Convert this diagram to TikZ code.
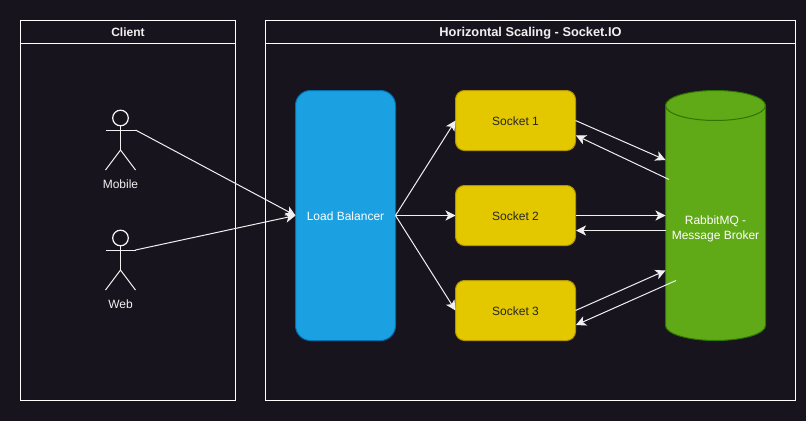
\documentclass[tikz,border=0pt]{standalone}
\usepackage{fontspec}
\setmainfont{Liberation Sans}
\usetikzlibrary{arrows.meta,positioning,calc}
\definecolor{pagebg}{HTML}{18141D}
\definecolor{linegray}{HTML}{F0F0F0}
\definecolor{lbfill}{HTML}{1BA1E2}
\definecolor{lbline}{HTML}{006EAF}
\definecolor{sockfill}{HTML}{E3C800}
\definecolor{sockline}{HTML}{B09500}
\definecolor{mqfill}{HTML}{60A917}
\definecolor{mqline}{HTML}{2D7600}
\tikzset{
  lanebody/.style={draw=white, line width=0.75pt, outer sep=0pt, inner sep=0pt},
  lanehead/.style={lanebody, text=linegray, font=\bfseries\fontsize{9}{11}\selectfont, minimum height=17.25pt,
    text height=7.4pt, text depth=0pt},
  lbbox/.style={draw=lbline, fill=lbfill, rounded corners=11.25pt, line width=0.75pt, outer sep=0pt,
    minimum width=75pt, minimum height=187.5pt, text=white, font=\fontsize{9}{11}\selectfont,
    text height=7.4pt, text depth=0pt},
  sockbox/.style={draw=sockline, fill=sockfill, rounded corners=6.75pt, line width=0.75pt, outer sep=0pt,
    minimum width=90pt, minimum height=45pt, text=black!85, font=\fontsize{9}{11}\selectfont,
    text height=7.8pt, text depth=0pt},
  mqbody/.style={draw=mqline, fill=mqfill, line width=0.75pt},
  mqlabel/.style={align=center, text=white, inner sep=0pt, font=\fontsize{9}{11}\selectfont},
  person/.style={draw=linegray, line width=0.75pt},
  personhead/.style={draw=linegray!75, line width=0.9pt},
  personlabel/.style={text=linegray, inner sep=0pt, font=\fontsize{9}{11}\selectfont},
  link/.style={draw=linegray, line width=0.75pt, -{Stealth[length=7.5pt,width=7.5pt,inset=2pt]}},
}
\begin{document}
\begin{tikzpicture}[x=0.75pt,y=-0.75pt]
  \fill[pagebg] (0,0) rectangle (806,421);
  \useasboundingbox (0,0) rectangle (806,421);

  % Lanes
  \node[lanebody, minimum width=161.25pt, minimum height=285pt] (clientlane) at (128,210.5) {};
  \node[lanehead, minimum width=161.25pt] (clienthead) at (128,32) {Client};
  \node[lanebody, minimum width=397.5pt, minimum height=285pt] (scalelane) at (530.5,210.5) {};
  \node[lanehead, minimum width=397.5pt] (scalehead) at (530.5,32) {\fontsize{9.6}{11}\selectfont Horizontal Scaling - Socket.IO};

  % Actors
  \foreach \name/\txt/\ytop in {mobile/Mobile/110, web/Web/230} {
    \node[personhead, circle, minimum size=11.7pt, inner sep=0pt, outer sep=0pt] (\name) at (120.5,\ytop+8) {};
    \coordinate (\name arm) at (135.5,\ytop+20);
    \draw[person] (\name.south) -- (120.5,\ytop+40);
    \draw[person] (105.5,\ytop+20) -- (\name arm);
    \draw[person] (105.5,\ytop+60) -- (120.5,\ytop+40) -- (135.5,\ytop+60);
    \node[personlabel] (\name label) at (120.5,\ytop+74) {\txt};
  }

  % Boxes
  \node[lbbox] (lb) at (345.5,215.5) {Load Balancer};
  \node[sockbox] (sock1) at (515.5,120.5) {Socket 1};
  \node[sockbox] (sock2) at (515.5,215.5) {Socket 2};
  \node[sockbox] (sock3) at (515.5,310.5) {Socket 3};

  % Broker cylinder
  \draw[mqbody] (665.5,105.5) arc[x radius=37.5pt, y radius=11.25pt, start angle=180, end angle=0]
    -- (765.5,325.5) arc[x radius=37.5pt, y radius=11.25pt, start angle=0, end angle=-180] -- cycle;
  \draw[mqline, line width=0.75pt] (665.5,105.5) arc[x radius=37.5pt, y radius=11.25pt, start angle=180, end angle=360];
  \node[mqlabel] (mqtext) at (715.5,228.7) {RabbitMQ -\\Message Broker};

  % Anchor points on the broker and sockets
  \coordinate (s1back) at (576,135.5);
  \coordinate (s2back) at (576,230.5);
  \coordinate (s3back) at (576,325);
  \coordinate (mq1in) at (665.5,160);
  \coordinate (mq1out) at (669,179.5);
  \coordinate (mq2in) at (665.5,215.5);
  \coordinate (mq2out) at (665.5,230.5);
  \coordinate (mq3in) at (665.5,270.5);
  \coordinate (mq3out) at (676,280.5);

  % Connectors
  \draw[link] (mobilearm) -- (lb.west);
  \draw[link] (webarm) -- (lb.west);
  \foreach \n in {1,2,3} \draw[link] (lb.east) -- (sock\n.west);
  \foreach \n in {1,2,3} {
    \draw[link] (sock\n.east) -- (mq\n in);
    \draw[link] (mq\n out) -- (s\n back);
  }
\end{tikzpicture}
\end{document}
